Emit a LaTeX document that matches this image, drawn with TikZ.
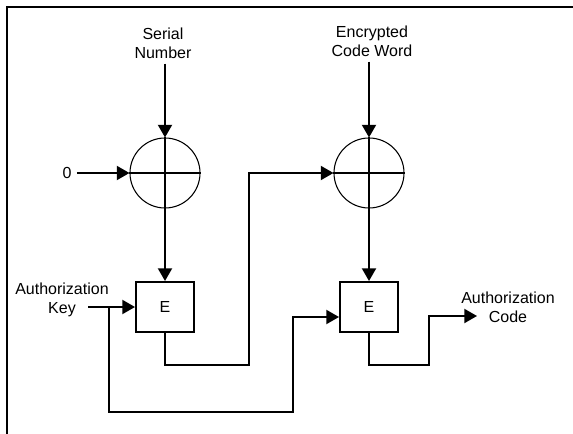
\documentclass[tikz,border=0pt]{standalone}
\usepackage{fontspec}
\setmainfont{Liberation Sans}
\usetikzlibrary{arrows.meta,shapes}

\tikzset{
  sum/.style={circle,draw,line width=0.8pt,minimum size=52.5pt,inner sep=0pt},
  enc/.style={draw,minimum width=43.5pt,minimum height=37.5pt,inner sep=0pt},
  lbl/.style={align=center}
}

\begin{document}
\begin{tikzpicture}[x=0.75pt,y=-0.75pt,line width=1.5pt,
  font=\fontsize{12}{14}\selectfont,
  >={Triangle[length=9.5pt,width=10.5pt]}]
\useasboundingbox (0,0) rectangle (573,434);
\draw (7,434) -- (7,7) -- (573,7);

\node[sum] (sum1) at (165,173) {};
\node[sum] (sum2) at (369,173) {};
\draw (sum1.north) -- (sum1.south) (sum1.west) -- (sum1.east);
\draw (sum2.north) -- (sum2.south) (sum2.west) -- (sum2.east);
\node[enc] (enc1) at (165,307) {E};
\node[enc] (enc2) at (369,307) {E};

\node[lbl] (serial) at (163,43) {Serial\\Number};
\node[lbl] (cword) at (372,41) {Encrypted\\Code Word};
\node (zero) at (67,173) {0};
\node[lbl] (key) at (62,300) {Authorization\\Key};
\node[lbl] (code) at (508,307) {Authorization\\Code};
\coordinate (keyout) at (88,307);
\coordinate (tap) at (109,307);
\coordinate (codein) at (477,316);

\draw[->] (sum1.north |- serial.south) -- (sum1.north);
\draw[->] (sum2.north |- cword.south) -- (sum2.north);
\draw[->] (zero) -- (sum1.west);
\draw[->] (sum1.south) -- (enc1.north);
\draw[->] (sum2.south) -- (enc2.north);
\draw[->] (keyout) -- (enc1.west);
\draw[->] (tap) -- ++(0,105) -- ++(184,0) |- ([yshift=-7.5pt]enc2.west);
\draw[->] (enc1.south) -- ++(0,32) -- ++(84,0) |- (sum2.west);
\draw[->] (enc2.south) -- ++(0,32) -- ++(60,0) |- (codein);
\end{tikzpicture}
\end{document}
